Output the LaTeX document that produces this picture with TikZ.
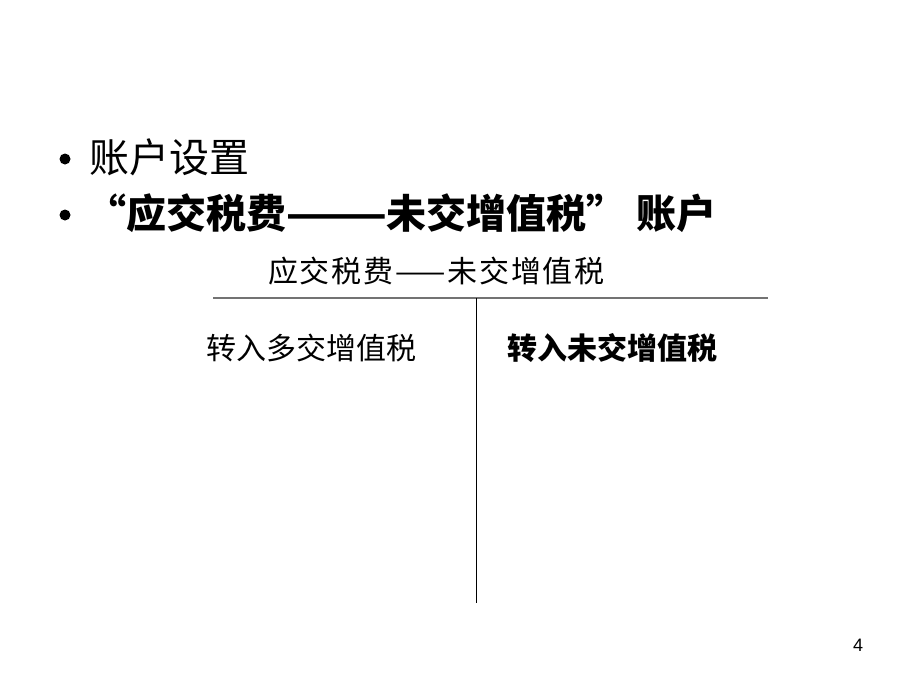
\documentclass[tikz,border=0pt]{standalone}
\usepackage{fontspec}
\setmainfont{Liberation Sans}
\newfontfamily\cjk{Noto Sans CJK SC}
\newfontfamily\cjkhdr{Noto Sans CJK SC}[LetterSpace=6]
\tikzset{
  txt/.style={inner sep=0pt, anchor=west, text=black},
  big/.style={txt, font=\cjk\fontsize{40}{44}\selectfont},
  bigb/.style={txt, font=\cjk\bfseries\fontsize{40}{44}\selectfont},
  mid/.style={txt, font=\cjk\fontsize{30}{34}\selectfont},
  midb/.style={txt, font=\cjk\bfseries\fontsize{30}{34}\selectfont},
  hdr/.style={txt, font=\cjkhdr\fontsize{30}{34}\selectfont},
  dot/.style={circle, fill=black, inner sep=0pt, minimum size=11pt},
}
\begin{document}
\begin{tikzpicture}[x=1pt,y=-1pt]
\useasboundingbox[fill=white] (0,0) rectangle (920,690);
\node[dot] (b1) at (65,159) {};
\node[big] (t1) at (89,157) {账户设置};
\node[dot] (b2) at (65,215) {};
\node[bigb] (t2) at (86,213) {“应交税费———未交增值税” 账户};
\node[hdr] (h) at (268,271) {应交税费——未交增值税};
\coordinate (hl) at (213,298);
\coordinate (hr) at (768,298);
\coordinate (vt) at (476,298);
\coordinate (vb) at (476,603);
\draw[line width=1.5pt, draw=black!55] (hl) -- (hr);
\draw[line width=1pt, draw=black] (vt) -- (vb);
\node[mid] (l) at (206,348) {转入多交增值税};
\node[midb] (r) at (507,348) {转入未交增值税};
\node[inner sep=0pt, font=\fontsize{18}{20}\selectfont] (p) at (858,645) {4};
\end{tikzpicture}
\end{document}
